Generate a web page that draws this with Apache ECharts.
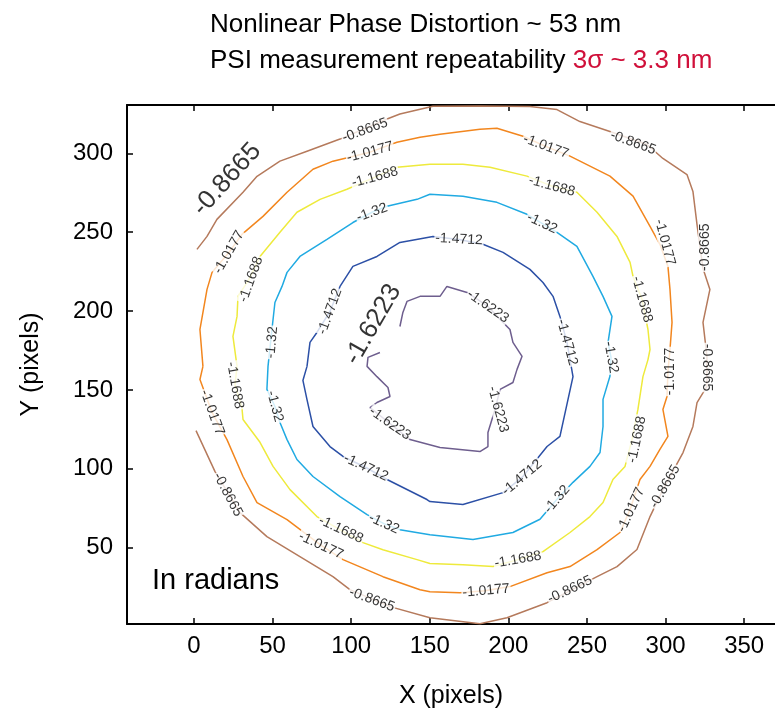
<!DOCTYPE html>
<html>
<head>
<meta charset="utf-8">
<script src="https://cdn.jsdelivr.net/npm/echarts@6/dist/echarts.min.js"></script>
<style>
  html, body { margin: 0; padding: 0; background: #fff; }
  #chart { width: 775px; height: 715px; }
</style>
</head>
<body>
<div id="chart"></div>
<script>
// contour levels (radians) and their colours
const levels = ['-0.8665', '-1.0177', '-1.1688', '-1.32', '-1.4712', '-1.6223'];
const levelColors = ['#b57a5c', '#f2861e', '#eeea3c', '#20aae2', '#2c50a6', '#6e5e8e'];

const xTicks = [0, 50, 100, 150, 200, 250, 300, 350];
const yTicks = [50, 100, 150, 200, 250, 300];

// contour traces, [x, y] in pixels of the measured map
const line0865 = [
  [1.9, 239.1], [8.3, 247.3], [14.6, 258.1], [31.2, 275.3], [40.1, 285.4], [54.7, 295.0],
  [71.9, 301.3], [92.9, 309.0], [122.8, 321.7], [131.0, 324.9], [152.0, 329.8], [181.9, 330.0],
  [213.7, 329.6], [230.9, 327.7], [245.5, 320.1], [264.6, 313.8], [288.2, 305.6], [298.3, 296.7],
  [313.6, 286.5], [317.4, 275.8], [320.0, 254.8], [323.8, 226.9], [328.2, 213.7], [323.8, 192.8],
  [326.3, 171.3], [326.3, 152.3], [320.0, 142.0], [317.4, 126.8], [311.1, 110.3], [298.3, 86.8],
  [290.1, 69.7], [281.8, 48.8], [269.1, 38.0], [256.4, 31.6], [224.6, 15.1], [199.1, 5.6],
  [181.9, 1.8], [150.1, 5.6], [124.7, 12.6], [99.2, 23.4], [88.4, 31.6], [67.4, 44.3],
  [46.4, 57.0], [29.3, 72.2], [13.4, 98.2], [1.3, 124.2]
];
const line1017 = [
  [5.7, 164.9], [3.8, 188.3], [8.3, 213.7], [11.5, 224.5], [22.3, 237.2], [30.5, 248.6],
  [43.9, 260.0], [59.2, 275.3], [75.7, 289.9], [88.4, 295.0], [112.0, 300.7], [129.1, 307.0],
  [143.8, 310.2], [156.5, 312.1], [181.9, 315.2], [192.7, 315.9], [209.3, 310.8], [223.3, 304.5],
  [239.2, 298.2], [264.6, 285.5], [279.3, 272.8], [290.1, 253.7], [296.4, 242.3], [301.5, 228.3],
  [302.8, 213.7], [304.1, 192.8], [302.8, 175.6], [301.5, 161.7], [300.9, 145.8], [298.3, 137.6],
  [301.5, 120.5], [296.4, 112.3], [290.1, 101.5], [283.7, 93.2], [277.4, 74.2], [271.0, 59.6],
  [256.4, 48.7], [239.2, 38.0], [224.6, 34.1], [201.0, 25.3], [185.1, 22.7], [169.2, 21.4],
  [150.1, 22.0], [143.8, 23.3], [120.2, 31.6], [94.8, 42.4], [80.2, 51.9], [59.2, 67.8],
  [40.1, 78.6], [31.2, 95.1], [21.0, 118.5], [11.5, 135.7], [3.8, 156.6], [5.7, 164.9]
];
const line1168 = [
  [27.4, 164.9], [24.8, 183.9], [27.4, 196.6], [28.0, 209.3], [35.0, 220.1], [42.0, 234.6],
  [54.7, 249.9], [65.5, 262.6], [80.2, 270.8], [97.3, 277.2], [115.1, 284.8], [129.1, 291.2],
  [150.1, 293.1], [171.1, 293.1], [188.3, 291.2], [211.8, 285.5], [227.7, 279.2], [243.6, 275.3],
  [256.4, 262.6], [269.1, 247.3], [277.4, 230.8], [279.3, 221.9], [285.0, 207.4], [288.8, 188.3],
  [290.1, 175.6], [288.8, 169.2], [285.6, 158.4], [282.4, 137.6], [278.6, 118.5], [274.2, 101.5],
  [266.5, 93.2], [260.2, 78.6], [251.9, 69.7], [239.2, 59.6], [222.0, 47.5], [206.1, 42.4],
  [190.2, 38.0], [171.1, 39.2], [150.1, 39.9], [141.9, 42.4], [120.2, 48.7], [107.5, 53.2],
  [92.9, 61.4], [78.2, 69.7], [61.1, 86.8], [50.3, 101.5], [42.0, 116.8], [31.2, 131.2],
  [30.5, 138.8], [26.1, 153.4], [27.4, 164.9]
];
const line1320 = [
  [47.1, 164.9], [49.6, 188.3], [51.5, 205.4], [56.0, 215.6], [59.2, 224.5], [67.4, 234.6],
  [84.6, 245.4], [101.1, 256.1], [113.2, 262.6], [122.8, 266.4], [141.9, 270.8], [150.1, 274.0],
  [171.1, 272.7], [192.7, 268.9], [211.8, 261.3], [221.4, 255.6], [230.9, 249.9], [243.6, 241.0],
  [253.8, 222.0], [260.2, 209.3], [265.9, 196.6], [263.4, 180.1], [265.3, 170.6], [264.6, 158.6],
  [260.2, 144.0], [260.2, 126.8], [258.3, 110.3], [251.9, 101.5], [241.1, 91.4], [230.9, 80.7],
  [220.1, 68.0], [202.9, 59.6], [177.5, 55.1], [150.1, 58.2], [131.0, 61.4], [120.8, 65.2],
  [110.1, 70.9], [92.9, 82.4], [75.7, 95.1], [65.5, 105.9], [59.2, 118.5], [54.7, 129.3],
  [51.5, 139.5], [46.4, 150.3], [47.1, 164.9]
];
const line1471 = [
  [71.9, 164.9], [73.8, 180.1], [78.2, 186.4], [86.5, 199.7], [92.9, 215.6], [101.1, 228.3],
  [116.4, 234.6], [131.0, 243.5], [152.0, 247.3], [168.6, 245.4], [183.8, 242.3], [196.6, 237.2],
  [213.7, 226.4], [222.0, 218.1], [228.4, 209.3], [232.8, 196.6], [237.3, 180.1], [239.2, 169.2],
  [241.1, 158.4], [237.9, 143.8], [232.8, 120.5], [224.6, 114.1], [208.7, 94.5], [196.6, 84.9],
  [171.1, 77.3], [150.1, 79.2], [148.2, 80.5], [122.8, 93.2], [109.4, 100.8], [94.8, 107.8],
  [86.5, 114.1], [75.7, 126.8], [71.9, 143.8], [69.3, 156.0], [71.9, 164.9]
];
const line1622 = [
  [131.0, 190.2], [132.9, 199.1], [135.5, 206.1], [143.8, 209.3], [156.5, 209.3], [160.9, 215.6],
  [173.7, 211.8], [187.0, 202.9], [194.7, 194.7], [201.0, 188.3], [202.9, 180.1], [208.7, 171.3],
  [205.5, 163.0], [202.9, 154.7], [194.7, 150.3], [191.5, 137.6], [187.0, 123.0], [187.0, 114.1],
  [181.9, 110.9], [156.5, 113.5], [137.4, 118.5], [124.7, 128.7], [112.0, 138.8], [116.4, 142.0],
  [124.7, 145.8], [123.4, 151.5], [116.4, 158.4], [110.1, 164.9], [110.7, 170.6], [118.3, 173.7]
];
const contourLines = [line0865, line1017, line1168, line1320, line1471, line1622];

// inline contour labels: [x, y, angle]
const labels0865 = [[21.0, 283.4, 48], [108.8, 314.6, 20], [279.3, 306.7, -20], [325.1, 240.4, 90],
  [326.0, 164.2, -90], [299.6, 88.7, 60], [239.2, 23.4, 25], [113.2, 17.0, -20], [21.6, 83.6, -62]];
const labels1017 = [[22.3, 237.2, 60], [112.0, 300.7, 15], [223.9, 304.3, -20], [299.6, 243.5, -75],
  [302.8, 161.7, 90], [278.0, 74.0, 65], [185.8, 22.7, 5], [80.8, 51.3, -25], [11.5, 135.7, -70]];
const labels1168 = [[36.3, 220.1, 70], [115.1, 284.8, 15], [227.7, 279.2, -15], [285.0, 207.4, -75],
  [281.8, 118.5, 78], [206.1, 42.4, 10], [93.5, 61.4, -25], [26.1, 152.8, -80]];
const labels1320 = [[49.6, 180.1, 85], [113.2, 262.4, 20], [221.4, 255.6, -25], [265.3, 170.6, -80],
  [230.9, 80.7, 50], [120.8, 65.2, -25], [51.5, 139.5, -75]];
const labels1471 = [[86.5, 199.7, 70], [168.6, 245.4, -3], [237.3, 180.1, -75], [208.7, 94.5, 40],
  [109.4, 100.8, -25]];
const labels1622 = [[113.9, 191.4, 60], [187.0, 202.9, -35], [193.4, 137.6, -75], [124.7, 128.7, -35]];
const contourLabels = [labels0865, labels1017, labels1168, labels1320, labels1471, labels1622];
// the first label of the outer and inner level is drawn large
const bigLabel = {0: 0, 5: 0};

const FONT = '"Liberation Sans", Arial, Helvetica, sans-serif';

const chart = echarts.init(document.getElementById('chart'), null, {renderer: 'canvas'});

const series = [];
contourLines.forEach(function (pts, i) {
  series.push({
    type: 'line',
    name: levels[i],
    data: pts,
    showSymbol: false,
    symbol: 'none',
    smooth: false,
    lineStyle: {color: levelColors[i], width: 1.5},
    z: 2,
    silent: true
  });
});
contourLabels.forEach(function (list, i) {
  series.push({
    type: 'scatter',
    name: levels[i] + ' label',
    symbolSize: 0,
    z: 5,
    silent: true,
    data: list.map(function (p, j) {
      const big = bigLabel[i] === j;
      return {
        value: [p[0], p[1]],
        label: {
          rotate: p[2],
          fontSize: big ? 26 : 14,
          backgroundColor: big ? 'transparent' : '#fff',
          padding: big ? 0 : [0, 1]
        }
      };
    }),
    label: {
      show: true,
      position: 'inside',
      formatter: levels[i],
      color: '#000',
      fontFamily: FONT
    }
  });
});

const axisCommon = {
  type: 'value',
  axisLine: {show: true, onZero: false, lineStyle: {color: '#000', width: 2}},
  splitLine: {show: false}
};

chart.setOption({
  animation: false,
  backgroundColor: '#fff',
  textStyle: {fontFamily: FONT},
  title: {
    left: 205,
    top: 2,
    text: '{a|Nonlinear Phase Distortion ~ 53 nm}\n{a|PSI measurement repeatability }{r|3\u03c3 ~ 3.3 nm}',
    textStyle: {
      fontWeight: 'normal',
      rich: {
        a: {fontSize: 26, color: '#000', fontWeight: 'normal', fontFamily: FONT, lineHeight: 36},
        r: {fontSize: 26, color: '#d0103a', fontWeight: 'normal', fontFamily: FONT, lineHeight: 36}
      }
    }
  },
  grid: {left: 127, top: 105, right: 0, bottom: 91, outerBoundsMode: 'none'},
  xAxis: [
    Object.assign({}, axisCommon, {
      min: -42.6,
      max: 369.6,
      position: 'bottom',
      axisTick: {show: true, inside: true, length: 6, customValues: xTicks, lineStyle: {color: '#000', width: 1.5}},
      axisLabel: {customValues: xTicks, fontSize: 24, color: '#000', margin: 10, fontFamily: FONT},
      name: 'X (pixels)',
      nameLocation: 'middle',
      nameGap: 60,
      nameTextStyle: {fontSize: 25, color: '#000', fontFamily: FONT}
    }),
    Object.assign({}, axisCommon, {
      min: -42.6,
      max: 369.6,
      position: 'top',
      axisTick: {show: true, inside: true, length: 6, customValues: xTicks, lineStyle: {color: '#000', width: 1.5}},
      axisLabel: {show: false}
    })
  ],
  yAxis: Object.assign({}, axisCommon, {
    min: 1.6,
    max: 330.6,
    axisTick: {show: true, inside: true, length: 6, customValues: yTicks, lineStyle: {color: '#000', width: 1.5}},
    axisLabel: {customValues: yTicks, fontSize: 24, color: '#000', margin: 14, fontFamily: FONT},
    name: 'Y (pixels)',
    nameLocation: 'middle',
    nameGap: 83,
    nameRotate: 90,
    nameTextStyle: {fontSize: 25, color: '#000', fontFamily: FONT}
  }),
  graphic: [{
    type: 'text',
    left: 152,
    top: 566,
    style: {text: 'In radians', fontSize: 29, fill: '#000', fontFamily: FONT}
  }],
  series: series
});
</script>
</body>
</html>
